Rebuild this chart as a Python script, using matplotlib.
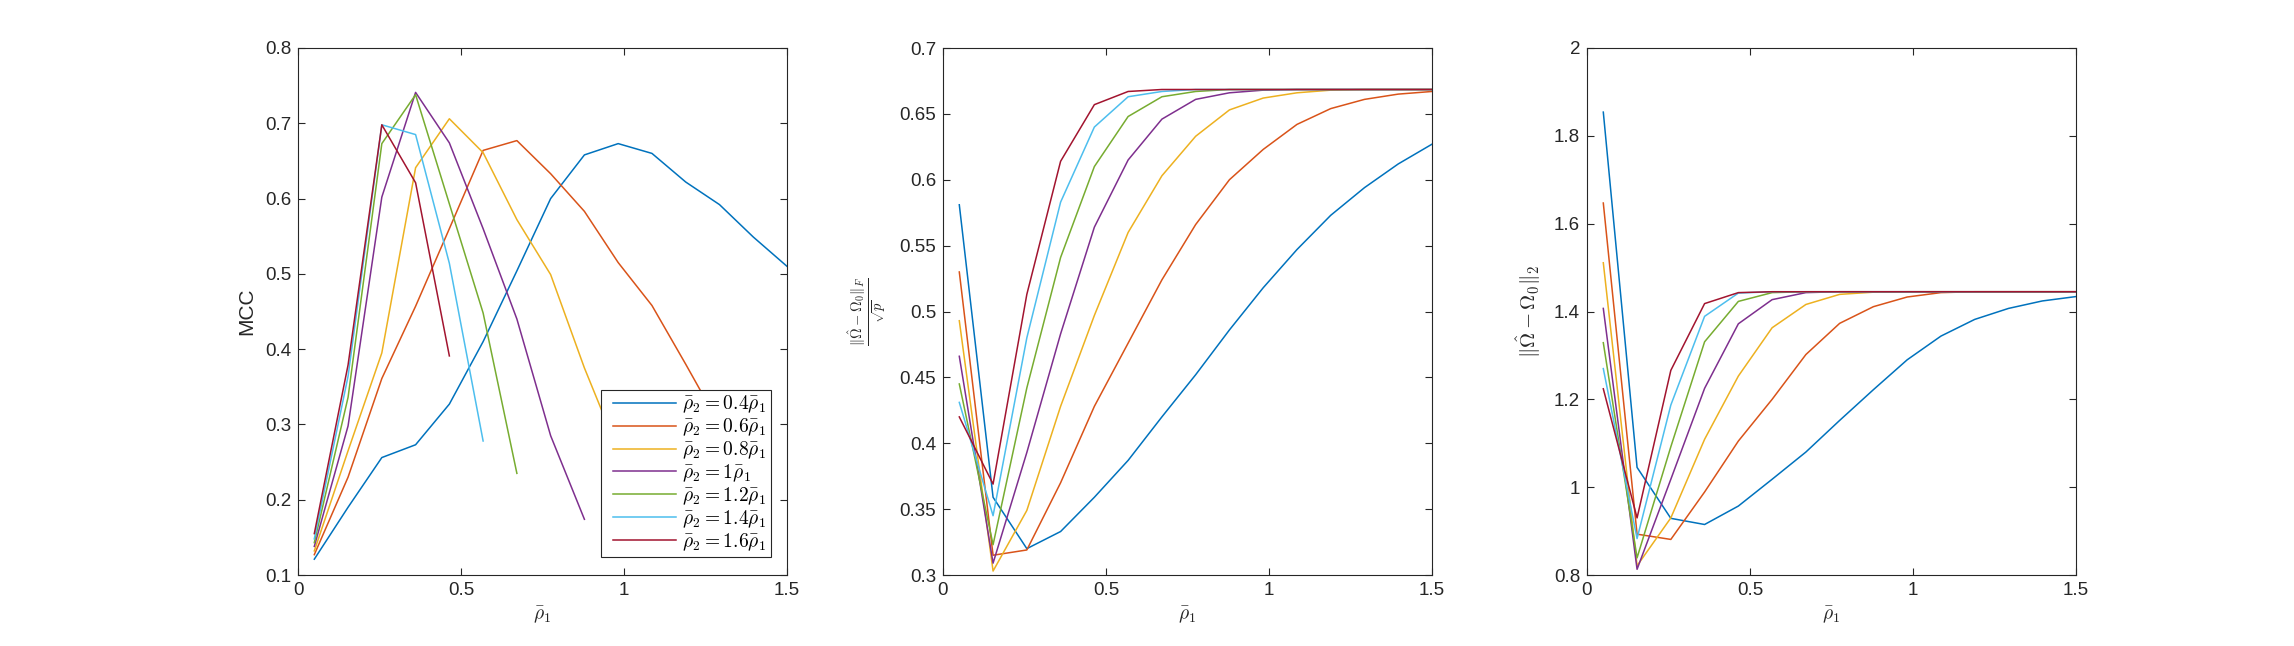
import numpy as np
import matplotlib
matplotlib.use("Agg")
import matplotlib.pyplot as plt
from matplotlib.lines import Line2D
from matplotlib.legend_handler import HandlerLine2D

plt.rcParams['font.family'] = ['Liberation Sans', 'DejaVu Sans']
plt.rcParams['mathtext.fontset'] = 'cm'

rho1 = np.linspace(0.05, 1.5, 15)
ratios = ["0.4", "0.6", "0.8", "1", "1.2", "1.4", "1.6"]
colors = ["#0072BD", "#D95319", "#EDB120", "#7E2F8E", "#77AC30", "#4DBEEE", "#A2142F"]

nan = np.nan
mcc = [
    [0.121, 0.190, 0.256, 0.273, 0.327, 0.410, 0.504, 0.600, 0.658, 0.673, 0.660, 0.622, 0.592, 0.549, 0.510],
    [0.127, 0.230, 0.361, 0.457, 0.560, 0.664, 0.677, 0.633, 0.583, 0.515, 0.458, 0.380, 0.300, 0.230, nan],
    [0.132, 0.265, 0.395, 0.641, 0.706, 0.661, 0.572, 0.499, 0.375, 0.265, 0.185, nan, nan, nan, nan],
    [0.138, 0.298, 0.602, 0.741, 0.674, 0.560, 0.440, 0.285, 0.174, nan, nan, nan, nan, nan, nan],
    [0.143, 0.336, 0.673, 0.738, 0.593, 0.448, 0.235, nan, nan, nan, nan, nan, nan, nan, nan],
    [0.148, 0.364, 0.698, 0.685, 0.514, 0.278, nan, nan, nan, nan, nan, nan, nan, nan, nan],
    [0.155, 0.379, 0.698, 0.621, 0.391, nan, nan, nan, nan, nan, nan, nan, nan, nan, nan],
]

frob = [
    [0.581, 0.359, 0.320, 0.333, 0.359, 0.387, 0.420, 0.452, 0.486, 0.518, 0.547, 0.573, 0.594, 0.612, 0.627],
    [0.530, 0.315, 0.319, 0.370, 0.428, 0.476, 0.524, 0.566, 0.600, 0.623, 0.642, 0.654, 0.661, 0.665, 0.667],
    [0.493, 0.303, 0.349, 0.428, 0.497, 0.560, 0.603, 0.633, 0.653, 0.662, 0.666, 0.668, 0.6685, 0.6685, 0.6685],
    [0.466, 0.309, 0.393, 0.483, 0.564, 0.615, 0.646, 0.661, 0.666, 0.668, 0.6685, 0.6685, 0.6685, 0.6685, 0.6685],
    [0.445, 0.323, 0.442, 0.541, 0.610, 0.648, 0.663, 0.667, 0.6685, 0.6685, 0.6685, 0.6685, 0.6685, 0.6685, 0.6685],
    [0.431, 0.345, 0.480, 0.583, 0.640, 0.663, 0.667, 0.6685, 0.6685, 0.6685, 0.6685, 0.6685, 0.6685, 0.6685, 0.6685],
    [0.420, 0.369, 0.513, 0.614, 0.657, 0.667, 0.6685, 0.6685, 0.6685, 0.6685, 0.6685, 0.6685, 0.6685, 0.6685, 0.6685],
]

spec = [
    [1.854, 1.045, 0.929, 0.915, 0.957, 1.018, 1.080, 1.152, 1.222, 1.290, 1.344, 1.382, 1.407, 1.424, 1.434],
    [1.647, 0.893, 0.881, 0.989, 1.105, 1.200, 1.302, 1.373, 1.411, 1.433, 1.443, 1.445, 1.445, 1.445, 1.445],
    [1.511, 0.821, 0.930, 1.109, 1.253, 1.363, 1.416, 1.439, 1.444, 1.445, 1.445, 1.445, 1.445, 1.445, 1.445],
    [1.407, 0.813, 1.018, 1.225, 1.372, 1.427, 1.443, 1.445, 1.445, 1.445, 1.445, 1.445, 1.445, 1.445, 1.445],
    [1.329, 0.839, 1.092, 1.331, 1.423, 1.443, 1.445, 1.445, 1.445, 1.445, 1.445, 1.445, 1.445, 1.445, 1.445],
    [1.270, 0.883, 1.187, 1.389, 1.442, 1.445, 1.445, 1.445, 1.445, 1.445, 1.445, 1.445, 1.445, 1.445, 1.445],
    [1.224, 0.930, 1.266, 1.418, 1.443, 1.445, 1.445, 1.445, 1.445, 1.445, 1.445, 1.445, 1.445, 1.445, 1.445],
]

xticks = [0, 0.5, 1, 1.5]
yticks1 = [0.1, 0.2, 0.3, 0.4, 0.5, 0.6, 0.7, 0.8]
yticks2 = [0.3, 0.35, 0.4, 0.45, 0.5, 0.55, 0.6, 0.65, 0.7]
yticks3 = [0.8, 1, 1.2, 1.4, 1.6, 1.8, 2]

W, H = 2294, 646
fig = plt.figure(figsize=(W / 100, H / 100), dpi=100)
axc = (0.15, 0.15, 0.15)
lefts = [298, 943, 1587]
width = 489
bottom_px, top_px = 575, 48

axes = []
for L in lefts:
    ax = fig.add_axes([L / W, (H - bottom_px) / H, width / W, (bottom_px - top_px) / H])
    axes.append(ax)

def style(ax, yt, ylim):
    ax.set_xlim(0, 1.5)
    ax.set_ylim(*ylim)
    ax.set_xticks(xticks)
    ax.set_xticklabels(["0", "0.5", "1", "1.5"])
    ax.set_yticks(yt)
    ax.set_yticklabels([("%g" % v) for v in yt])
    ax.tick_params(direction='in', length=5, width=0.8, top=True, right=True,
                   labelsize=13.5, colors=axc, pad=5)
    for s in ax.spines.values():
        s.set_color(axc)
        s.set_linewidth(0.8)
    ax.set_xlabel(r'$\bar{\rho}_1$', fontsize=14, color=axc, labelpad=4)

lw = 1.1
labels = [r'$\bar{\rho}_2 = ' + r + r'\bar{\rho}_1$' for r in ratios]
for i in range(7):
    axes[0].plot(rho1, mcc[i], color=colors[i], lw=lw, label=labels[i])
    axes[1].plot(rho1, frob[i], color=colors[i], lw=lw)
    axes[2].plot(rho1, spec[i], color=colors[i], lw=lw)

style(axes[0], yticks1, (0.1, 0.8))
style(axes[1], yticks2, (0.3, 0.7))
style(axes[2], yticks3, (0.8, 2.0))

axes[0].set_ylabel('MCC', fontsize=15, color=axc, labelpad=6)
axes[1].set_ylabel(r'$\frac{\Vert\hat{\Omega}-\Omega_0\Vert_F}{\sqrt{p}}$', fontsize=15, color=axc, labelpad=8)
axes[2].set_ylabel(r'$\Vert\hat{\Omega}-\Omega_0\Vert_2$', fontsize=15, color=axc, labelpad=8)

leg = axes[0].legend(loc='lower right', bbox_to_anchor=(771 / W, (H - 557) / H),
                     bbox_transform=fig.transFigure, borderaxespad=0,
                     fontsize=14, frameon=True, fancybox=False, framealpha=1,
                     edgecolor=axc, handlelength=3.6, handletextpad=0.34,
                     labelspacing=0.07, borderpad=0.22,
                     handler_map={Line2D: HandlerLine2D(xpad=0.36)})
leg.get_frame().set_linewidth(0.8)

fig.savefig('out.png', dpi=100, facecolor='white')
